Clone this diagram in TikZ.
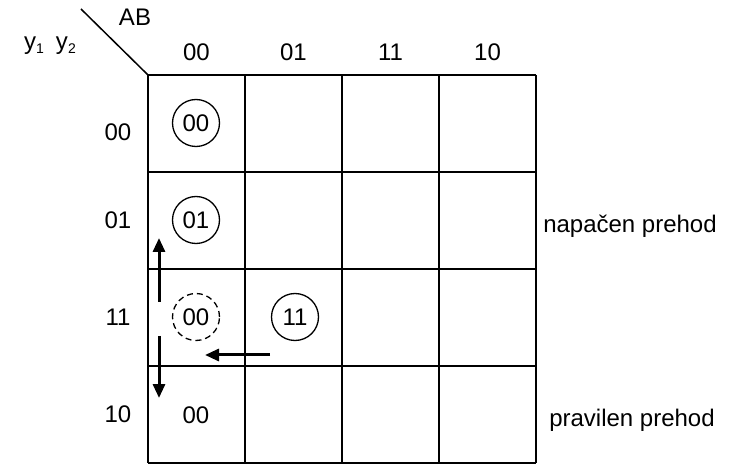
\documentclass[tikz,border=0pt]{standalone}
\usepackage{fontspec}
\setmainfont{Liberation Sans}
\usepackage{tikz}
\usetikzlibrary{arrows.meta}
\newcommand{\lowidx}[1]{\raisebox{-4pt}{\fontsize{14}{16}\selectfont#1}}
\begin{document}
\begin{tikzpicture}[x=1pt,y=-1pt,
  every node/.style={font=\fontsize{24}{28}\selectfont,inner sep=0pt},
  state/.style={circle,draw,line width=1.3pt,minimum size=47pt},
  ghost/.style={state,dash pattern=on 6pt off 4pt},
  move/.style={-{Triangle[length=14pt,width=12pt]},line width=3pt}]
\useasboundingbox (0,0) rectangle (729,465);
\foreach \k in {0,...,4} {
  \draw[line width=1.5pt] (148+97*\k,75) -- (148+97*\k,463);
  \draw[line width=1.5pt] (148,75+97*\k) -- (536,75+97*\k);
}
\coordinate (corner) at (148,75);
\coordinate (slash) at (81,9);
\draw[line width=1.5pt] (slash) -- (corner);
\node (ab) at (135,17) {AB};
\node (yy) at (50,46) {y\lowidx{1}\hspace{12pt}y\lowidx{2}};
\foreach \c [count=\i from 0] in {00,01,11,10}
  \node (col\c) at (196.5+97*\i,52) {\c};
\foreach \r/\ypos in {00/132,01/220,11/317,10/414}
  \node (row\r) at (118,\ypos) {\r};
\node[state] (s00) at (196,123) {00};
\node[state] (s01) at (196,220) {01};
\node[ghost] (g00) at (196,317) {00};
\node[state] (s11) at (295,317) {11};
\node (e00) at (196,415) {00};
\draw[move] ([xshift=-37pt,yshift=15pt]g00.center) -- ([xshift=-37pt,yshift=-18pt]s01.center);
\draw[move] ([xshift=-37pt,yshift=-19pt]g00.center) -- ([xshift=-37pt,yshift=17pt]e00.center);
\draw[move] ([xshift=-25pt,yshift=-38pt]s11.center) -- ([xshift=9pt,yshift=-38pt]g00.center);
\node (wrong) at (630,226) {napačen prehod};
\node (right) at (632,420) {pravilen prehod};
\end{tikzpicture}
\end{document}
